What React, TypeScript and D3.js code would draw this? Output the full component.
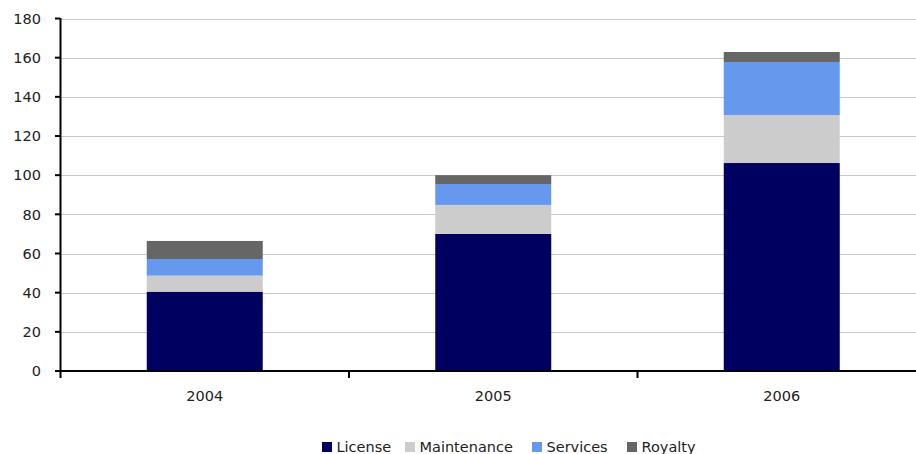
import React from "react";
import * as d3 from "d3";

const years = ["2004", "2005", "2006"];
const seriesNames = ["License", "Maintenance", "Services", "Royalty"];
const license = [40.5, 70.0, 106.2];
const maintenance = [8.2, 14.8, 24.5];
const services = [8.5, 10.7, 27.1];
const royalty = [9.2, 4.5, 5.1];
const yTicks = [0, 20, 40, 60, 80, 100, 120, 140, 160, 180];
const colors = ["#000060", "#CCCCCC", "#6699EE", "#666666"];

const W = 916;
const H = 454;
const FONT = "'DejaVu Sans', Verdana, sans-serif";

export default function App() {
  const rows = years.map((y, i) => ({
    year: y,
    License: license[i],
    Maintenance: maintenance[i],
    Services: services[i],
    Royalty: royalty[i],
  }));
  const stack = d3.stack<any>().keys(seriesNames)(rows);
  const x0 = 60.5;
  const x = d3.scaleBand().domain(years).range([x0, x0 + 3 * 288.5]).paddingInner(0).paddingOuter(0);
  const y = d3.scaleLinear().domain([0, 180]).range([371, 18.5]);
  const barW = 116;
  const legendX = [322, 405, 532, 627];

  return (
    <svg width={W} height={H} style={{ position: "absolute", left: 0, top: 0, background: "#fff" }} fontFamily={FONT}>
      {yTicks.filter((t) => t > 0).map((t) => (
        <line key={"g" + t} x1={60} x2={W} y1={Math.round(y(t)) + 0.5} y2={Math.round(y(t)) + 0.5} stroke="#C8C8C8" strokeWidth={1} />
      ))}
      {stack.map((s, si) => (
        <g key={s.key} fill={colors[si]}>
          {s.map((d, i) => {
            const cx = x(years[i])! + x.bandwidth() / 2;
            return (
              <rect key={i} x={cx - barW / 2} width={barW} y={y(d[1])} height={y(d[0]) - y(d[1])} />
            );
          })}
        </g>
      ))}
      {/* y axis */}
      <line x1={60.5} x2={60.5} y1={18} y2={372} stroke="#000" strokeWidth={2} />
      {yTicks.map((t) => (
        <g key={"t" + t}>
          <line x1={55} x2={60} y1={y(t)} y2={y(t)} stroke="#000" strokeWidth={2} />
          <text x={41} y={y(t)} dy="0.36em" textAnchor="end" fontSize={14.5} fill="#222">
            {t}
          </text>
        </g>
      ))}
      {/* x axis */}
      <line x1={59.5} x2={W} y1={371} y2={371} stroke="#000" strokeWidth={2} />
      {years.map((yr, i) => (
        <g key={yr}>
          <line x1={x(yr)!} x2={x(yr)!} y1={371} y2={378} stroke="#000" strokeWidth={2} />
          <text x={x(yr)! + x.bandwidth() / 2} y={400.5} textAnchor="middle" fontSize={14.5} fill="#222">
            {yr}
          </text>
        </g>
      ))}
      {/* legend */}
      {seriesNames.map((n, i) => (
        <g key={n}>
          <rect x={legendX[i]} y={442} width={10} height={10} fill={colors[i]} />
          <text x={legendX[i] + 14.5} y={451.5} fontSize={14.5} fill="#222">
            {n}
          </text>
        </g>
      ))}
    </svg>
  );
}
